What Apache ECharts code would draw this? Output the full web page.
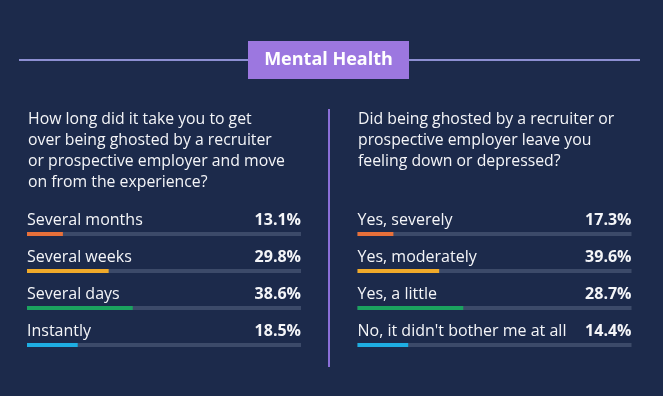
<!DOCTYPE html>
<html>
<head>
<meta charset="utf-8">
<style>
  html, body { margin: 0; padding: 0; background: #1c2a4b; }
  #chart { width: 663px; height: 396px; }
</style>
<script src="https://cdn.jsdelivr.net/npm/echarts@6/dist/echarts.min.js"></script>
</head>
<body>
<div id="chart"></div>
<script>
  // 数据
  var title = 'Mental Health';
  var leftQuestion = ['How long did it take you to get', 'over being ghosted by a recruiter', 'or prospective employer and move', 'on from the experience?'];
  var leftCategories = ['Several months', 'Several weeks', 'Several days', 'Instantly'];
  var leftValues = [13.1, 29.8, 38.6, 18.5];

  var rightQuestion = ['Did being ghosted by a recruiter or', 'prospective employer leave you', 'feeling down or depressed?'];
  var rightCategories = ['Yes, severely', 'Yes, moderately', 'Yes, a little', "No, it didn't bother me at all"];
  var rightLabels = [17.3, 39.6, 28.7, 14.4];
  // 原图右侧条形长度与标注不符，按图中实际长度读取
  var rightBarValues = [13.1, 29.8, 38.6, 18.5];

  var barColors = ['#e8703a', '#f0aa2a', '#1ba35f', '#1eaee3'];

  var bg = '#1c2a4b';
  var ink = '#f4f5f8';
  var track = '#3c4a69';
  var font = '"Open Sans", "Noto Sans", sans-serif';

  var chart = echarts.init(document.getElementById('chart'), null, { renderer: 'canvas' });

  function makeGrid(left) {
    return { left: left, width: 274, top: 215.5, height: 148, containLabel: false };
  }

  function nameAxis(idx, cats) {
    return {
      type: 'category', gridIndex: idx, data: cats, inverse: true,
      axisLine: { show: false }, axisTick: { show: false },
      axisLabel: {
        inside: true, margin: 0, color: ink, fontSize: 16, fontFamily: font,
        verticalAlign: 'bottom', padding: [0, 0, 6, 0]
      }
    };
  }

  function pctAxis(idx, vals) {
    return {
      type: 'category', gridIndex: idx, position: 'right', inverse: true,
      data: vals.map(function (v) { return v.toFixed(1) + '%'; }),
      axisLine: { show: false }, axisTick: { show: false },
      axisLabel: {
        inside: true, margin: 0, color: ink, fontSize: 16, fontWeight: 'bold', fontFamily: font,
        verticalAlign: 'bottom', padding: [0, 0, 6, 0]
      }
    };
  }

  function barSeries(idx, vals) {
    return {
      type: 'bar', xAxisIndex: idx, yAxisIndex: idx * 2,
      barWidth: 4, showBackground: true,
      backgroundStyle: { color: track },
      data: vals.map(function (v, i) { return { value: v, itemStyle: { color: barColors[i] } }; })
    };
  }

  function textLines(lines, x, y0) {
    return lines.map(function (t, i) {
      return {
        type: 'text', left: x, top: y0 + i * 21,
        style: { text: t, fill: ink, font: '15.8px ' + font }
      };
    });
  }

  chart.setOption({
    backgroundColor: bg,
    animation: false,
    grid: [makeGrid(27), makeGrid(357.5)],
    xAxis: [
      { type: 'value', gridIndex: 0, min: 0, max: 100, show: false },
      { type: 'value', gridIndex: 1, min: 0, max: 100, show: false }
    ],
    yAxis: [
      nameAxis(0, leftCategories), pctAxis(0, leftValues),
      nameAxis(1, rightCategories), pctAxis(1, rightLabels)
    ],
    series: [barSeries(0, leftValues), barSeries(1, rightBarValues)],
    graphic: [
      { type: 'rect', shape: { x: 19, y: 59, width: 621, height: 2 }, style: { fill: '#8d8fd3' } },
      { type: 'rect', shape: { x: 248, y: 41, width: 161, height: 38 }, style: { fill: '#9c77e0' } },
      {
        type: 'text', x: 328.5, y: 60,
        style: { text: title, fill: '#ffffff', font: 'bold 18px ' + font, align: 'center', verticalAlign: 'middle' }
      },
      { type: 'rect', shape: { x: 328, y: 109, width: 2, height: 258 }, style: { fill: '#8a6fd8' } }
    ].concat(textLines(leftQuestion, 28, 111), textLines(rightQuestion, 358, 111))
  });
</script>
</body>
</html>
